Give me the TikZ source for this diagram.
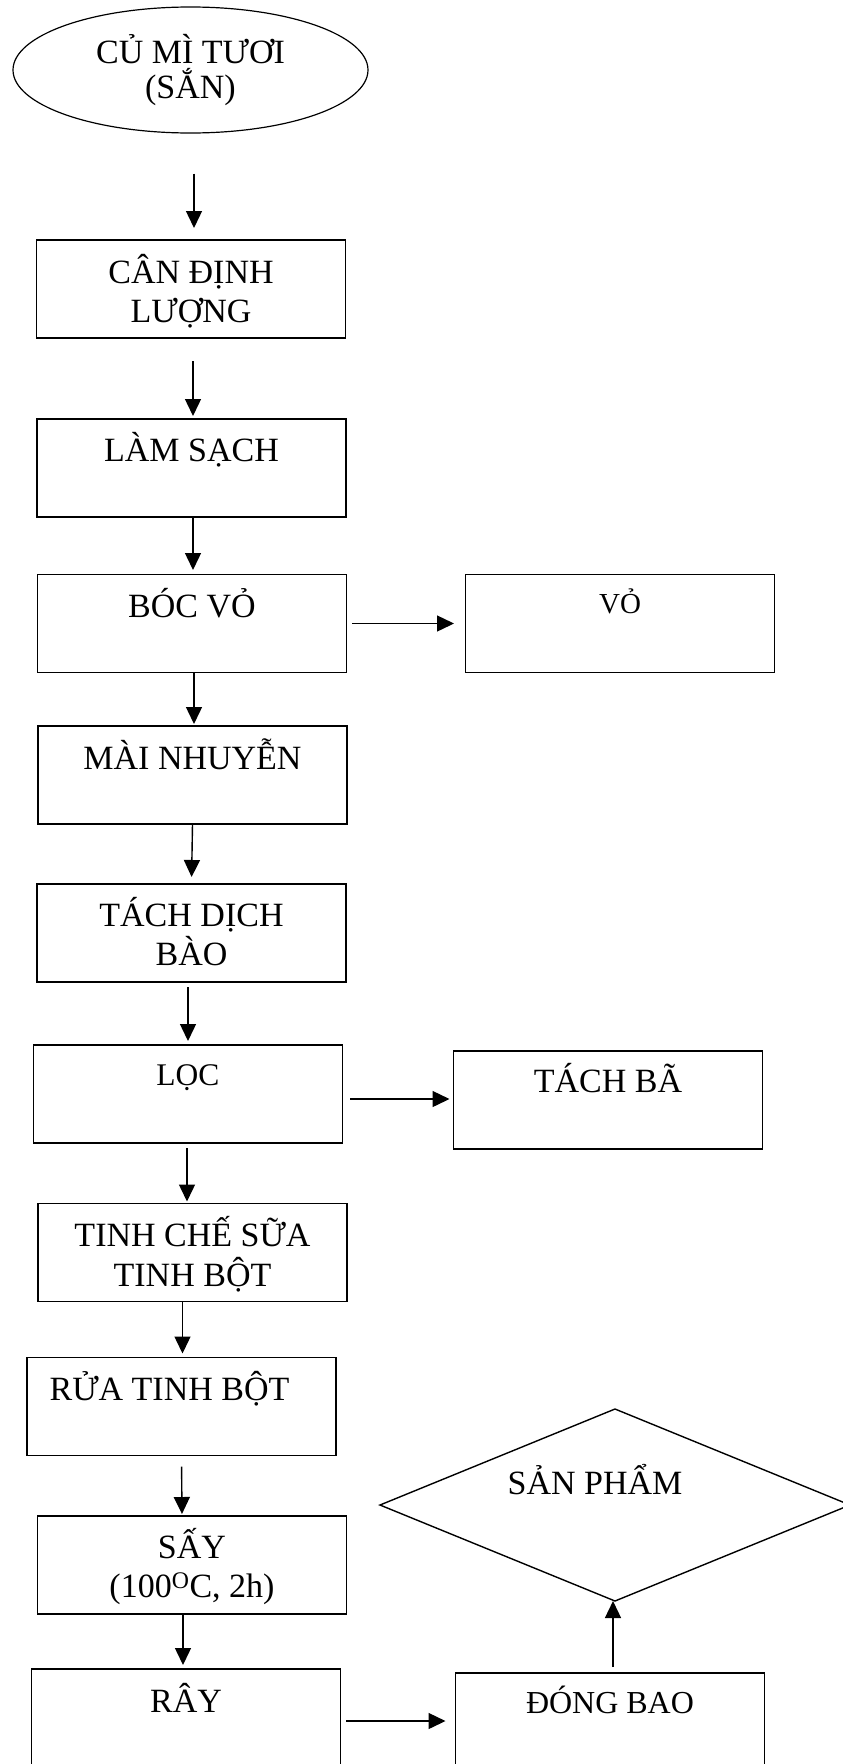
\documentclass[tikz,border=0pt]{standalone}
\usepackage{fontspec}
\setmainfont{Liberation Serif}
\usetikzlibrary{arrows.meta,shapes.geometric}

% text of a box, set from the top edge down
\newcommand{\boxtext}[2]{\parbox[c][98pt][t]{309pt}{\centering\rule{0pt}{#1}#2}}

\begin{document}
\begin{tikzpicture}[x=1pt, y=-1pt, >={Triangle[length=17pt,width=16pt]},
    stepbox/.style={draw, line width=1.4pt, inner sep=0pt, outer sep=0pt,
      minimum width=309pt, minimum height=98pt,
      font=\fontsize{34}{39.5}\selectfont},
    startnode/.style={draw, ellipse, line width=1.2pt, inner sep=0pt,
      minimum width=355pt, minimum height=126pt, align=center,
      font=\fontsize{34}{35}\selectfont},
    endnode/.style={draw, diamond, aspect=2.45, line width=1.4pt,
      inner sep=0pt, outer sep=0pt, minimum width=470pt, minimum height=192pt,
      text height=26pt, text depth=48pt, font=\fontsize{34}{39.5}\selectfont},
    flow/.style={->, line width=1.4pt}]

    %% Background
    \useasboundingbox (0,0) rectangle (843,1764);

    % Start
    \node[startnode] (cu) at (190.5,70) {CỦ MÌ TƯƠI\\(SẮN)};

    % Main line
    \node[stepbox] (can)  at (191,289)    {\boxtext{43pt}{CÂN ĐỊNH\\LƯỢNG}};
    \node[stepbox] (lam)  at (191.5,468)  {\boxtext{42pt}{LÀM SẠCH}};
    \node[stepbox] (boc)  at (192,623.5)  {\boxtext{43pt}{BÓC VỎ}};
    \node[stepbox] (mai)  at (192.5,775)  {\boxtext{43pt}{MÀI NHUYỄN}};
    \node[stepbox] (tach) at (191.5,933)  {\boxtext{42pt}{TÁCH DỊCH\\BÀO}};
    \node[stepbox, font=\fontsize{31.5}{37}\selectfont]
      (loc) at (188,1094) {\boxtext{40pt}{LỌC}};
    \node[stepbox] (tinh) at (192.5,1252.5) {\boxtext{43pt}{TINH CHẾ SỮA\\TINH BỘT}};
    \node[stepbox] (rua) at (181.5,1406.5) {\boxtext{43pt}{RỬA TINH BỘT\kern24pt}};
    \node[stepbox] (say)  at (192,1565)   {\boxtext{42pt}{SẤY\\(100\textsuperscript{O}C, 2h)}};
    \node[stepbox] (ray)  at (186,1718)   {\boxtext{43pt}{RÂY}};

    % Side boxes
    \node[stepbox, font=\fontsize{29}{34}\selectfont]
      (vo) at (620,623.5) {\boxtext{39pt}{VỎ}};
    \node[stepbox] (ba) at (608,1100) {\boxtext{41pt}{TÁCH BÃ}};
    \node[stepbox, font=\fontsize{32}{37}\selectfont]
      (dong) at (610,1722) {\boxtext{40pt}{ĐÓNG BAO}};

    % Product
    \node[endnode] (sp) at (615,1505) {SẢN PHẨM\kern40pt};

    % Arrows
    \draw[flow, shorten <=40pt, shorten >=12pt] ([xshift=3.5pt]cu.south) -- ([xshift=3pt]can.north);
    \draw[flow, shorten <=23pt, shorten >=3pt] ([xshift=2pt]can.south) -- ([xshift=1.5pt]lam.north);
    \draw[flow, shorten >=4.5pt] ([xshift=1.5pt]lam.south) -- ([xshift=1pt]boc.north);
    \draw[flow, shorten <=5.5pt, shorten >=11.5pt] (boc.east) -- (vo.west);
    \draw[flow, shorten >=2pt] ([xshift=2pt]boc.south) -- ([xshift=1.5pt]mai.north);
    \draw[flow, shorten >=7pt] (mai.south) -- (tach.north);
    \draw[flow, shorten <=5pt, shorten >=4pt] ([xshift=-3.5pt]tach.south) -- (loc.north);
    \draw[flow, shorten <=7.5pt, shorten >=4pt] ([yshift=-5pt]loc.east) -- ([yshift=1pt]ba.west);
    \draw[flow, shorten <=5pt, shorten >=2pt] ([xshift=-1pt]loc.south) -- ([xshift=-5.5pt]tinh.north);
    \draw[flow, shorten >=4pt] ([xshift=-10pt]tinh.south) -- ([xshift=1pt]rua.north);
    \draw[flow, shorten <=11pt, shorten >=2pt] (rua.south) -- ([xshift=-10pt]say.north);
    \draw[flow, shorten >=4pt] ([xshift=-9pt]say.south) -- ([xshift=-3pt]ray.north);
    \draw[flow, shorten <=5.5pt, shorten >=10pt] ([yshift=-3pt]ray.east) -- ([yshift=1pt]dong.west);
    \draw[flow, shorten <=6pt] ([xshift=3pt]dong.north) -- ([xshift=-2pt]sp.south);

\end{tikzpicture}
\end{document}
